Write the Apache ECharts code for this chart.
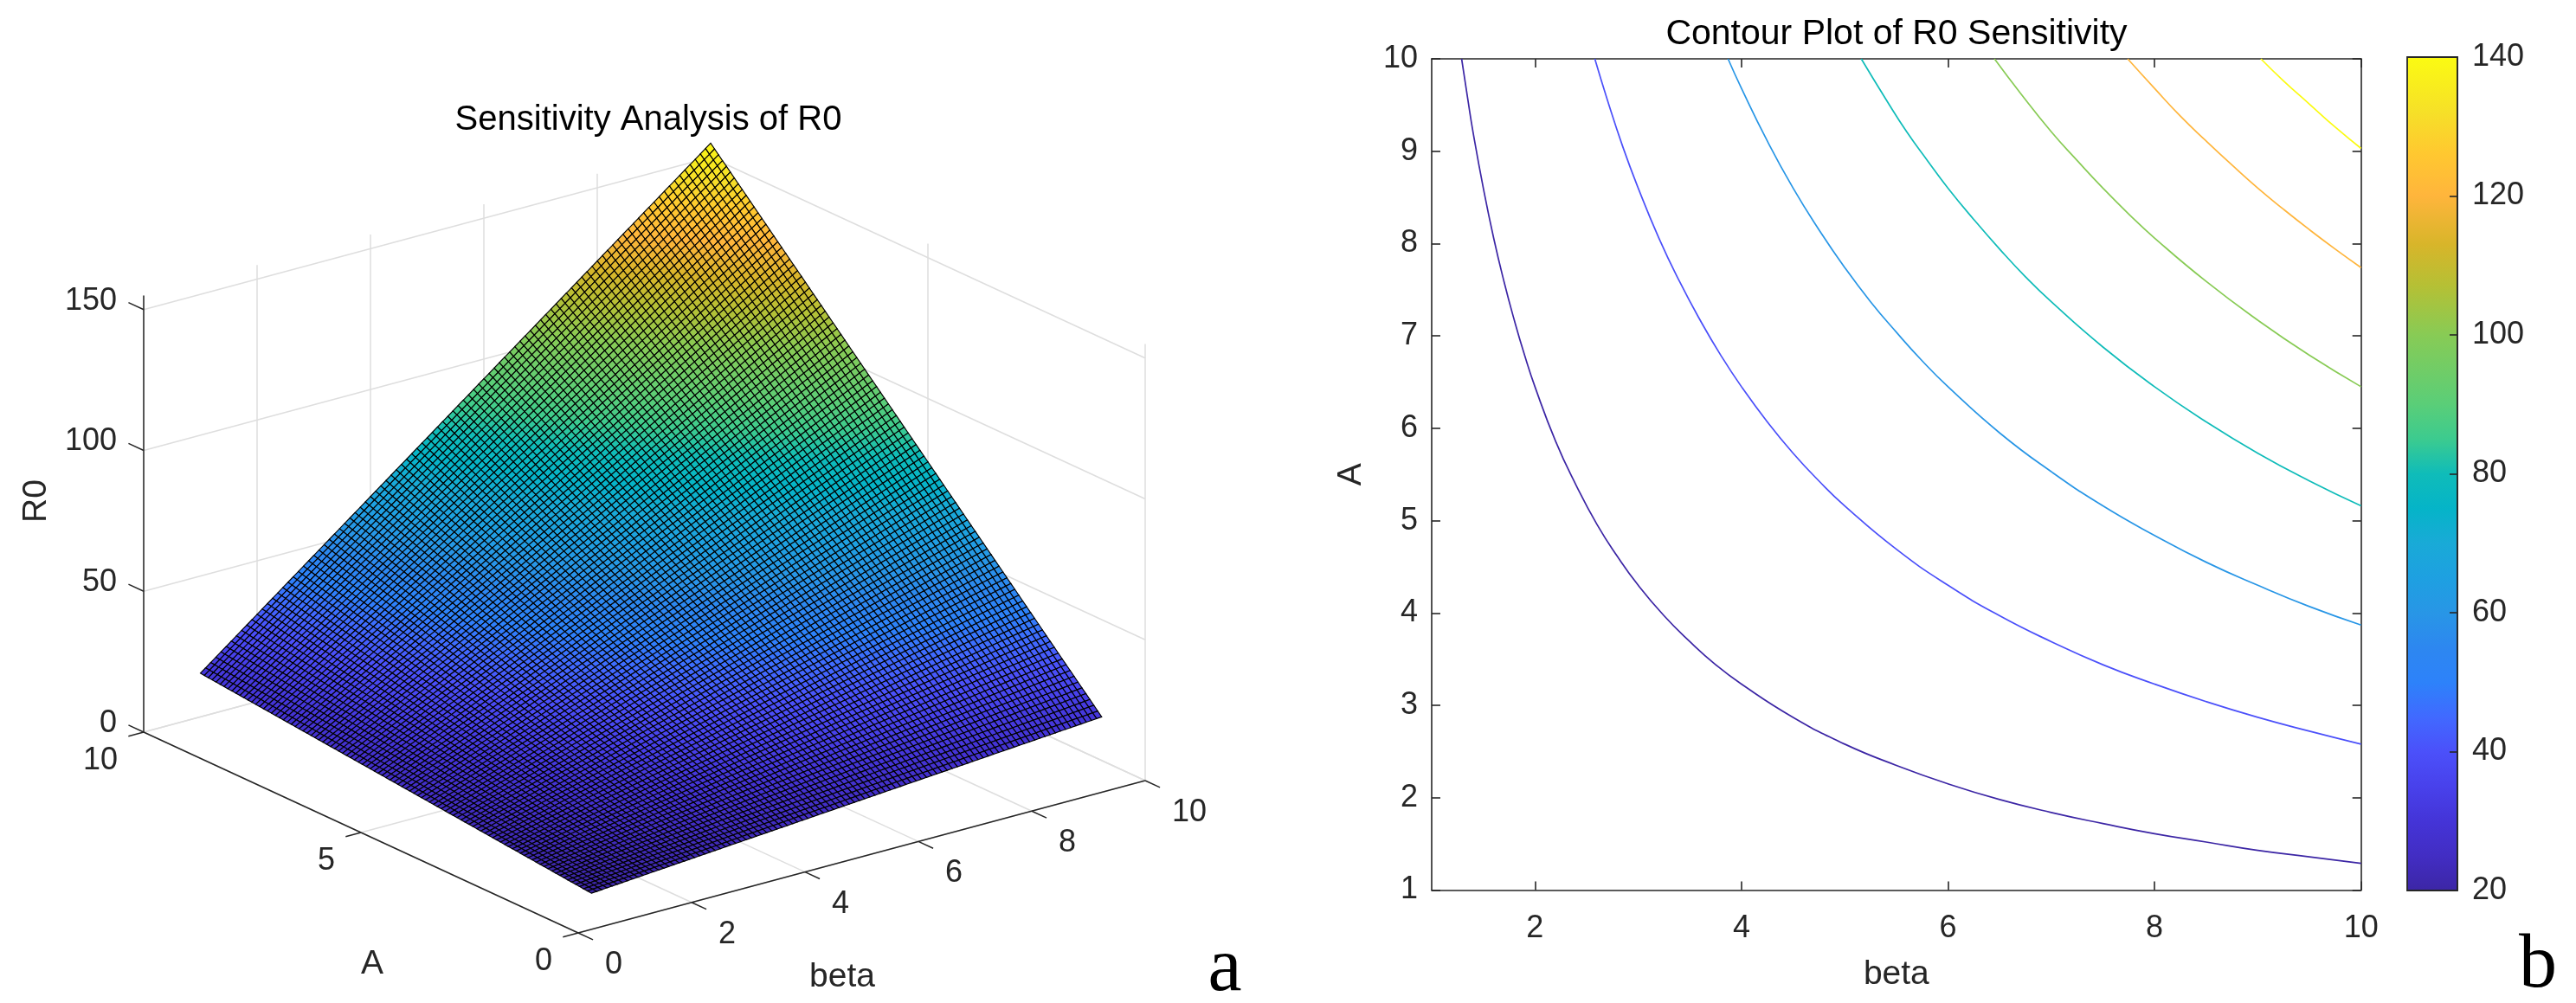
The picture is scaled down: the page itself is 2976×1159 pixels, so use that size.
<!DOCTYPE html>
<html><head><meta charset="utf-8">
<style>html,body{margin:0;padding:0;background:#fff}#c{width:2976px;height:1159px}</style>
<script src="https://cdn.jsdelivr.net/npm/echarts@6/dist/echarts.min.js"></script>
</head><body><div id="c"></div>
<script>
// ---------- data ----------
const meshBeta = [1,2,3,4,5,6,7,8,9,10];
const meshA = [1,2,3,4,5,6,7,8,9,10];
const r0Table = [
 [1.55,3.1,4.65,6.2,7.75,9.3,10.85,12.4,13.95,15.5],
 [3.1,6.2,9.3,12.4,15.5,18.6,21.7,24.8,27.9,31],
 [4.65,9.3,13.95,18.6,23.25,27.9,32.55,37.2,41.85,46.5],
 [6.2,12.4,18.6,24.8,31,37.2,43.4,49.6,55.8,62],
 [7.75,15.5,23.25,31,38.75,46.5,54.25,62,69.75,77.5],
 [9.3,18.6,27.9,37.2,46.5,55.8,65.1,74.4,83.7,93],
 [10.85,21.7,32.55,43.4,54.25,65.1,75.95,86.8,97.65,108.5],
 [12.4,24.8,37.2,49.6,62,74.4,86.8,99.2,111.6,124],
 [13.95,27.9,41.85,55.8,69.75,83.7,97.65,111.6,125.55,139.5],
 [15.5,31,46.5,62,77.5,93,108.5,124,139.5,155]
];
const betaTicks3d = [0,2,4,6,8,10];
const aTicks3d = [0,5,10];
const zTicks3d = [0,50,100,150];
const zTop = 155;

const contourLevels = [20,40,60,80,100,120,140];
const contour20 = [[1.29,10],[1.35,9.56],[1.4,9.21],[1.5,8.6],[1.6,8.06],[1.7,7.59],[1.8,7.17],[1.9,6.79],[2,6.45],[2.2,5.86],[2.4,5.38],[2.6,4.96],[2.8,4.61],[3,4.3],[3.25,3.97],[3.5,3.69],[3.75,3.44],[4,3.23],[4.5,2.87],[5,2.58],[5.5,2.35],[6,2.15],[6.5,1.98],[7,1.84],[7.5,1.72],[8,1.61],[8.5,1.52],[9,1.43],[9.5,1.36],[10,1.29]];
const contour40 = [[2.58,10],[2.7,9.56],[2.85,9.05],[3,8.6],[3.2,8.06],[3.4,7.59],[3.6,7.17],[3.8,6.79],[4,6.45],[4.25,6.07],[4.5,5.73],[4.75,5.43],[5,5.16],[5.5,4.69],[6,4.3],[6.5,3.97],[7,3.69],[7.5,3.44],[8,3.23],[8.5,3.04],[9,2.87],[9.5,2.72],[10,2.58]];
const contour60 = [[3.87,10],[4,9.68],[4.25,9.11],[4.5,8.6],[4.75,8.15],[5,7.74],[5.25,7.37],[5.5,7.04],[5.75,6.73],[6,6.45],[6.5,5.95],[7,5.53],[7.5,5.16],[8,4.84],[8.5,4.55],[9,4.3],[9.5,4.07],[10,3.87]];
const contour80 = [[5.16,10],[5.4,9.56],[5.6,9.21],[5.8,8.9],[6,8.6],[6.25,8.26],[6.5,7.94],[6.75,7.64],[7,7.37],[7.5,6.88],[8,6.45],[8.5,6.07],[9,5.73],[9.5,5.43],[10,5.16]];
const contour100 = [[6.45,10],[6.7,9.63],[7,9.21],[7.25,8.9],[7.5,8.6],[7.75,8.32],[8,8.06],[8.5,7.59],[9,7.17],[9.5,6.79],[10,6.45]];
const contour120 = [[7.74,10],[8,9.68],[8.25,9.38],[8.5,9.11],[8.75,8.85],[9,8.6],[9.25,8.37],[9.5,8.15],[9.75,7.94],[10,7.74]];
const contour140 = [[9.03,10],[9.25,9.76],[9.5,9.51],[9.75,9.26],[10,9.03]];
const contours = [contour20,contour40,contour60,contour80,contour100,contour120,contour140];
const xTicks2d = [2,4,6,8,10];

// ---------- style ----------
// colour bar: [value on the bar, r, g, b]
const barStops = [[20,60,38,165],[25,66,45,195],[30,68,52,215],[35,72,65,235],[40,75,80,250],[45,65,105,255],[50,45,130,250],[55,45,135,240],[60,40,150,230],[65,30,160,225],[70,25,170,215],[75,5,180,200],[80,15,188,185],[85,60,203,143],[90,90,206,120],[100,136,203,85],[107,181,192,53],[113,216,181,42],[120,255,181,60],[126,255,200,48],[132,246,224,40],[140,251,251,18]];
const parula = barStops.map(s=>[(s[0]-20)/120,s[1],s[2],s[3]]);
function cmap(t){t=Math.max(0,Math.min(1,t));for(let i=1;i<parula.length;i++){if(t<=parula[i][0]){const a=parula[i-1],b=parula[i],f=(t-a[0])/(b[0]-a[0]);return 'rgb('+[1,2,3].map(k=>Math.round(a[k]+(b[k]-a[k])*f)).join(',')+')';}}return 'rgb(251,251,18)';}
const FONT='"Liberation Sans",Arial,sans-serif', INK='#262626', GRID='#dedede';
const TICK=36, LABEL=39;
// view of the 3-D box: page position of the origin and of one unit on each axis
const view={ox:668,oy:1078,bx:65.5,by:-17.6,ax:-50.2,ay:-23.2,zk:3.255};
const proj=(b,a,z)=>[view.ox+b*view.bx+a*view.ax, view.oy+b*view.by+a*view.ay-z*view.zk];
const SUB=11;

// facets of the surface
const facets=[];
for(let j=0;j<meshA.length-1;j++)for(let i=0;i<meshBeta.length-1;i++){
  const z00=r0Table[j][i],z10=r0Table[j][i+1],z01=r0Table[j+1][i],z11=r0Table[j+1][i+1];
  const h=(u,v)=>z00*(1-u)*(1-v)+z10*u*(1-v)+z01*(1-u)*v+z11*u*v;
  for(let q=0;q<SUB;q++)for(let p=0;p<SUB;p++){
    const u0=p/SUB,u1=(p+1)/SUB,v0=q/SUB,v1=(q+1)/SUB;
    facets.push([meshBeta[i]+u0,meshA[j]+v0,h(u0,v0),h(u1,v0),h(u0,v1),h(u1,v1),u1-u0,v1-v0]);
  }
}
facets.reverse();
const zMin=r0Table[0][0], zMax=r0Table[9][9];

// lines of the box
const gridSegs=[], axisSegs=[];
betaTicks3d.forEach(b=>{gridSegs.push([b,0,0,b,10,0]);gridSegs.push([b,10,0,b,10,zTop]);});
aTicks3d.forEach(a=>{gridSegs.push([0,a,0,10,a,0]);gridSegs.push([10,a,0,10,a,zTop]);});
zTicks3d.forEach(z=>{gridSegs.push([0,10,z,10,10,z]);gridSegs.push([10,10,z,10,0,z]);});
axisSegs.push([0,0,0,10,0,0],[0,0,0,0,10,0],[0,10,0,0,10,zTop]);
betaTicks3d.forEach(b=>axisSegs.push([b,0,0,b,-0.34,0]));
aTicks3d.forEach(a=>axisSegs.push([0,a,0,-0.27,a,0]));
zTicks3d.forEach(z=>axisSegs.push([0,10,z,0,10.35,z]));

function segRender(color,w){return (p,api)=>{
  const s=proj(api.value(0),api.value(1),api.value(2)),e=proj(api.value(3),api.value(4),api.value(5));
  const a=api.coord(s),b=api.coord(e);
  return {type:'line',shape:{x1:a[0],y1:a[1],x2:b[0],y2:b[1]},style:{stroke:color,lineWidth:w},silent:true};
};}
const tickLabels=[];
betaTicks3d.forEach(b=>tickLabels.push({v:[b,0,0],t:String(b),dx:31,dy:37,al:'left'}));
aTicks3d.forEach(a=>tickLabels.push({v:[0,a,0],t:String(a),dx:-30,dy:33,al:'right'}));
zTicks3d.forEach(z=>tickLabels.push({v:[0,10,z],t:String(z),dx:-31,dy:-10,al:'right'}));

const scene={coordinateSystem:'cartesian2d',xAxisIndex:0,yAxisIndex:0,type:'custom',animation:false,silent:true,progressive:0,clip:false};
const series=[
 Object.assign({},scene,{z:1,data:gridSegs,renderItem:segRender(GRID,1.5)}),
 Object.assign({},scene,{z:2,data:axisSegs,renderItem:segRender(INK,1.5)}),
 Object.assign({},scene,{z:3,data:facets,encode:{x:0,y:1},renderItem:(p,api)=>{
   const b=api.value(0),a=api.value(1),db=api.value(6),da=api.value(7);
   const z00=api.value(2),z10=api.value(3),z01=api.value(4),z11=api.value(5);
   const pts=[proj(b,a,z00),proj(b+db,a,z10),proj(b+db,a+da,z11),proj(b,a+da,z01)].map(q=>api.coord(q));
   return {type:'polygon',shape:{points:pts},style:{fill:cmap((z00-zMin)/(zMax-zMin)),stroke:'#000',lineWidth:1.15},silent:true};
 }}),
 Object.assign({},scene,{z:4,data:tickLabels.map(l=>l.v),renderItem:(p,api)=>{
   const l=tickLabels[p.dataIndex],c=api.coord(proj(api.value(0),api.value(1),api.value(2)));
   return {type:'text',x:c[0]+l.dx,y:c[1]+l.dy,style:{text:l.t,font:TICK+'px '+FONT,fill:INK,align:l.al,verticalAlign:'middle'},silent:true};
 }})
];
contours.forEach((c,i)=>series.push({type:'line',name:'R0='+contourLevels[i],xAxisIndex:1,yAxisIndex:1,data:c,showSymbol:false,smooth:0.5,silent:true,animation:false,z:3,
  lineStyle:{width:1.7,color:cmap((contourLevels[i]-20)/120)}}));
// colour bar
series.push({type:'custom',xAxisIndex:3,yAxisIndex:3,z:2,silent:true,animation:false,data:[[0,20,1,140]],renderItem:(p,api)=>{
  const a=api.coord([api.value(0),api.value(1)]),b=api.coord([api.value(2),api.value(3)]);
  const colorStops=parula.map(s=>({offset:s[0],color:'rgb('+s[1]+','+s[2]+','+s[3]+')'}));
  return {type:'rect',shape:{x:a[0],y:b[1],width:b[0]-a[0],height:a[1]-b[1]},style:{fill:new echarts.graphic.LinearGradient(0,1,0,0,colorStops),stroke:INK,lineWidth:1.8}};
}});

const axisCommon={axisLine:{show:true,onZero:false,lineStyle:{color:INK,width:1.6}},splitLine:{show:false},axisPointer:{show:false}};
const tickIn={show:true,inside:true,length:10,lineStyle:{color:INK,width:1.6}};
const opt={
 animation:false,backgroundColor:'#fff',
 title:[
  {text:'Sensitivity Analysis of R0',left:744,top:114,textAlign:'center',textStyle:{fontFamily:FONT,fontSize:40,fontWeight:'normal',color:'#000'}},
  {text:'Contour Plot of R0 Sensitivity',left:2186,top:14,textAlign:'center',textStyle:{fontFamily:FONT,fontSize:41,fontWeight:'normal',color:'#000'}},
  {text:'a',left:1410,top:1072,textAlign:'center',textStyle:{fontFamily:'"Liberation Serif",serif',fontSize:88,fontWeight:'normal',color:'#000'}},
  {text:'b',left:2927,top:1068,textAlign:'center',textStyle:{fontFamily:'"Liberation Serif",serif',fontSize:88,fontWeight:'normal',color:'#000'}},
  {text:'beta',left:968,top:1105,textAlign:'center',textStyle:{fontFamily:FONT,fontSize:LABEL,fontWeight:'normal',color:INK}},
  {text:'A',left:425,top:1090,textAlign:'center',textStyle:{fontFamily:FONT,fontSize:LABEL,fontWeight:'normal',color:INK}}
 ],
 graphic:[{type:'text',x:42,y:579,rotation:Math.PI/2,style:{text:'R0',font:LABEL+'px '+FONT,fill:INK,align:'center',verticalAlign:'middle'}}],
 grid:[
  {left:0,top:0,width:1500,height:1159,show:false},
  {left:1654,top:68,width:1073.7,height:960.5,show:false},
  {left:2781,top:66,width:58,height:963,show:false}
 ],
 xAxis:[
  {gridIndex:0,type:'value',min:0,max:1500,show:false},
  Object.assign({},axisCommon,{gridIndex:1,type:'value',min:1,max:10,position:'bottom',name:'beta',nameLocation:'middle',nameGap:78,
    nameTextStyle:{fontFamily:FONT,fontSize:LABEL,color:INK},
    axisTick:Object.assign({},tickIn,{customValues:xTicks2d}),
    axisLabel:{customValues:xTicks2d,fontFamily:FONT,fontSize:TICK,color:INK,margin:27}}),
  Object.assign({},axisCommon,{gridIndex:1,type:'value',min:1,max:10,position:'top',
    axisTick:Object.assign({},tickIn,{customValues:xTicks2d}),axisLabel:{show:false}}),
  {gridIndex:2,type:'value',min:0,max:1,show:false}
 ],
 yAxis:[
  {gridIndex:0,type:'value',min:0,max:1159,inverse:true,show:false},
  Object.assign({},axisCommon,{gridIndex:1,type:'value',min:1,max:10,interval:1,position:'left',name:'A',nameLocation:'middle',nameGap:73,
    nameTextStyle:{fontFamily:FONT,fontSize:LABEL,color:INK},
    axisTick:tickIn,axisLabel:{fontFamily:FONT,fontSize:TICK,color:INK,margin:16}}),
  Object.assign({},axisCommon,{gridIndex:1,type:'value',min:1,max:10,interval:1,position:'right',axisTick:tickIn,axisLabel:{show:false}}),
  Object.assign({},axisCommon,{gridIndex:2,type:'value',min:20,max:140,interval:20,position:'right',z:5,
    axisTick:{show:true,inside:true,length:9,lineStyle:{color:INK,width:1.6}},
    axisLabel:{fontFamily:FONT,fontSize:TICK,color:INK,margin:17}})
 ],
 series:series
};
const chart=echarts.init(document.getElementById('c'),null,{renderer:'canvas',width:2976,height:1159});
chart.setOption(opt);
</script></body></html>
